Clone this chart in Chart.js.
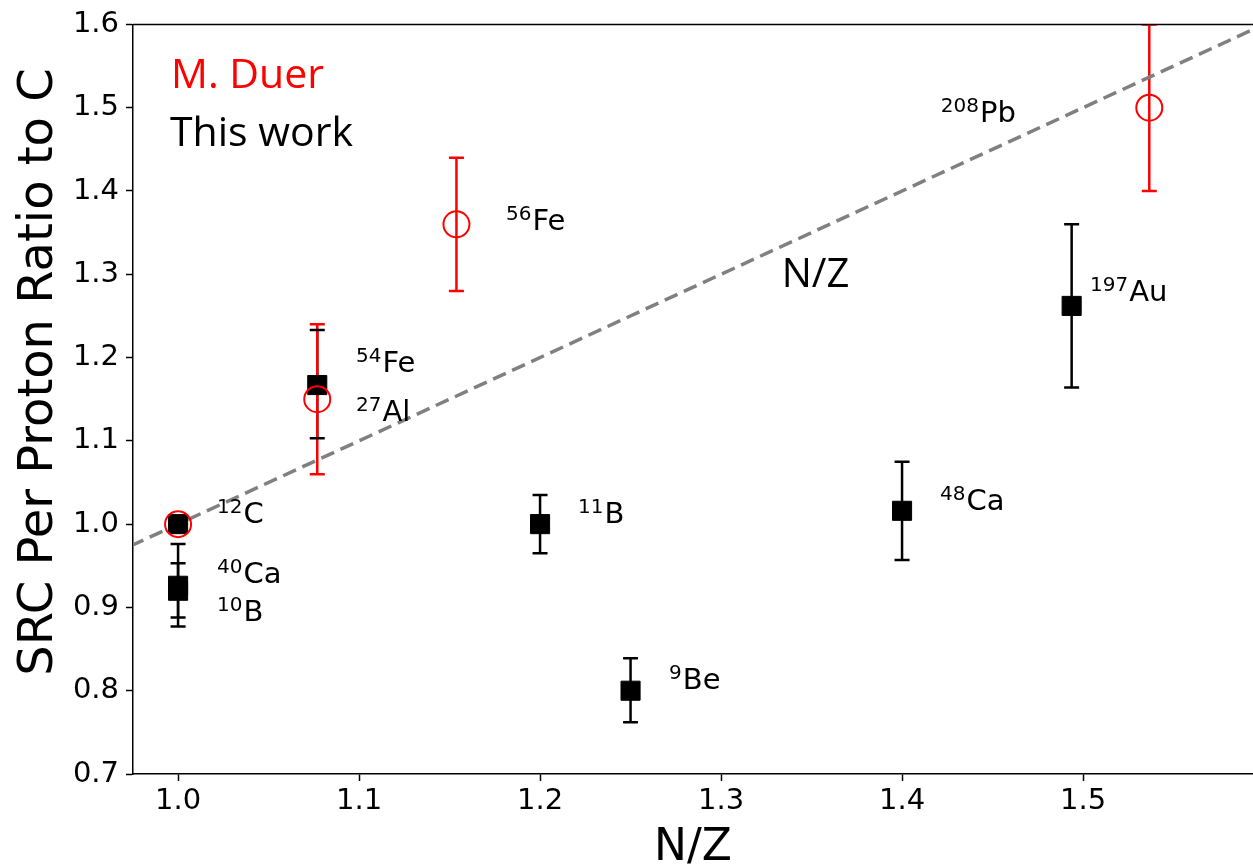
<!DOCTYPE html>
<html>
<head>
<meta charset="utf-8">
<script src="https://cdn.jsdelivr.net/npm/chart.js@4/dist/chart.umd.min.js"></script>
<style>
  html, body { margin: 0; padding: 0; background: #fff; overflow: hidden; }
  #wrap { position: absolute; left: 0; top: 0; width: 1253px; height: 866px; overflow: hidden; }
  canvas { display: block; }
</style>
</head>
<body>
<div id="wrap"><canvas id="c" width="1253" height="866"></canvas></div>
<script>
// This work: N/Z, SRC-per-proton ratio to carbon, and asymmetric uncertainties
const thisWorkNuclei  = ['12C', '40Ca', '10B', '54Fe', '11B', '9Be', '48Ca', '197Au'];
const thisWorkNZ      = [1.0, 1.0, 1.0, 1.0769, 1.2, 1.25, 1.4, 1.4937];
const thisWorkRatio   = [1.0, 0.926, 0.920, 1.167, 1.0, 0.80, 1.016, 1.262];
const thisWorkErrUp   = [0, 0.050, 0.033, 0.066, 0.035, 0.039, 0.059, 0.098];
const thisWorkErrDown = [0, 0.049, 0.032, 0.064, 0.035, 0.038, 0.059, 0.098];

// M. Duer measurements
const duerNuclei  = ['12C', '27Al', '56Fe', '208Pb'];
const duerNZ      = [1.0, 1.0769, 1.1538, 1.5366];
const duerRatio   = [1.0, 1.15, 1.36, 1.5];
const duerErrUp   = [0, 0.09, 0.08, 0.1];
const duerErrDown = [0, 0.09, 0.08, 0.1];

// Reference trend: ratio equal to N/Z
const nzLineX = [0.9, 1.7];
const nzLineY = [0.9, 1.7];

// Axis ticks
const xTickValues = [1.0, 1.1, 1.2, 1.3, 1.4, 1.5];
const yTickValues = [0.7, 0.8, 0.9, 1.0, 1.1, 1.2, 1.3, 1.4, 1.5, 1.6];

// Nucleus annotations (mass number, symbol, anchor in data units: left edge / baseline)
const labelMass = ['12', '40', '10', '54', '27', '56', '208', '11', '9', '48', '197'];
const labelSym  = ['C', 'Ca', 'B', 'Fe', 'Al', 'Fe', 'Pb', 'B', 'Be', 'Ca', 'Au'];
const labelX    = [1.0215, 1.0215, 1.0215, 1.0983, 1.0983, 1.1812, 1.4214, 1.221, 1.2713, 1.421, 1.5039];
const labelY    = [1.0014, 0.9298, 0.884, 1.1827, 1.1238, 1.3532, 1.4826, 1.0014, 0.8024, 1.0174, 1.2683];

const RED = '#ff0000';
const BLACK = '#000000';

const toPoints = (xs, ys) => xs.map((x, i) => ({ x: x, y: ys[i] }));

// Vertical error bars with caps, drawn beneath the markers
const errorBars = {
  id: 'errorBars',
  beforeDatasetsDraw(chart) {
    const { ctx, chartArea, scales: { x, y } } = chart;
    const groups = [
      { xs: thisWorkNZ, ys: thisWorkRatio, up: thisWorkErrUp, down: thisWorkErrDown, color: BLACK },
      { xs: duerNZ, ys: duerRatio, up: duerErrUp, down: duerErrDown, color: RED }
    ];
    const capHalf = 7.5;
    ctx.save();
    ctx.beginPath();
    ctx.rect(chartArea.left, chartArea.top, chartArea.right - chartArea.left, chartArea.bottom - chartArea.top);
    ctx.clip();
    ctx.lineWidth = 2.5;
    ctx.lineCap = 'butt';
    groups.forEach(g => {
      ctx.strokeStyle = g.color;
      g.xs.forEach((xv, i) => {
        if (!g.up[i] && !g.down[i]) return;
        const px = x.getPixelForValue(xv);
        ctx.beginPath();
        ctx.moveTo(px, y.getPixelForValue(g.ys[i] + g.up[i]));
        ctx.lineTo(px, y.getPixelForValue(g.ys[i] - g.down[i]));
        ctx.stroke();
      });
    });
    groups.forEach(g => {
      ctx.strokeStyle = g.color;
      g.xs.forEach((xv, i) => {
        if (!g.up[i] && !g.down[i]) return;
        const px = x.getPixelForValue(xv);
        const pTop = y.getPixelForValue(g.ys[i] + g.up[i]);
        const pBot = y.getPixelForValue(g.ys[i] - g.down[i]);
        ctx.beginPath();
        ctx.moveTo(px - capHalf, pTop);
        ctx.lineTo(px + capHalf, pTop);
        ctx.moveTo(px - capHalf, pBot);
        ctx.lineTo(px + capHalf, pBot);
        ctx.stroke();
      });
    });
    ctx.restore();
  }
};

// Nucleus labels, legend text, trend label, y-axis title and top frame line
const annotations = {
  id: 'annotations',
  afterDraw(chart) {
    const { ctx, chartArea, scales: { x, y } } = chart;
    ctx.save();
    ctx.textAlign = 'left';
    ctx.textBaseline = 'alphabetic';
    ctx.fillStyle = '#000';
    labelMass.forEach((m, i) => {
      const px = x.getPixelForValue(labelX[i]);
      const py = y.getPixelForValue(labelY[i]);
      ctx.font = '20px "DejaVu Sans"';
      ctx.fillText(m, px, py - 10);
      const w = ctx.measureText(m).width;
      ctx.font = '29px "DejaVu Sans"';
      ctx.fillText(labelSym[i], px + w + 1, py);
    });

    ctx.font = '40px "Open Sans"';
    ctx.fillText('N/Z', x.getPixelForValue(1.3335), y.getPixelForValue(1.2842));

    ctx.font = '41px "Open Sans"';
    ctx.fillStyle = RED;
    ctx.fillText('M. Duer', chartArea.left + 38, chartArea.top + 64);
    ctx.fillStyle = BLACK;
    ctx.fillText('This work', chartArea.left + 37, chartArea.top + 122);

    // y-axis title
    ctx.save();
    ctx.translate(40, 372);
    ctx.rotate(-Math.PI / 2);
    ctx.textAlign = 'center';
    ctx.textBaseline = 'middle';
    ctx.font = '48px "DejaVu Sans"';
    ctx.fillText('SRC Per Proton Ratio to C', 0, 0);
    ctx.restore();

    ctx.strokeStyle = BLACK;
    ctx.lineWidth = 1.5;
    ctx.beginPath();
    ctx.moveTo(chartArea.left, chartArea.top);
    ctx.lineTo(chartArea.right, chartArea.top);
    ctx.stroke();
    ctx.restore();
  }
};

Chart.defaults.font.family = '"DejaVu Sans"';
Chart.defaults.color = '#000';

new Chart(document.getElementById('c'), {
  type: 'scatter',
  data: {
    datasets: [
      {
        label: 'M. Duer',
        data: toPoints(duerNZ, duerRatio),
        pointStyle: 'circle',
        pointRadius: 13,
        pointHoverRadius: 13,
        borderColor: RED,
        backgroundColor: 'rgba(0,0,0,0)',
        borderWidth: 2,
        order: 0
      },
      {
        label: 'This work',
        data: toPoints(thisWorkNZ, thisWorkRatio),
        pointStyle: 'rect',
        pointRadius: 13.5,
        pointHoverRadius: 13.5,
        borderColor: BLACK,
        backgroundColor: BLACK,
        borderWidth: 1,
        order: 1
      },
      {
        type: 'line',
        label: 'N/Z',
        data: toPoints(nzLineX, nzLineY),
        borderColor: '#808080',
        borderWidth: 3.5,
        borderDash: [14, 7],
        pointRadius: 0,
        fill: false,
        order: 2
      }
    ]
  },
  options: {
    responsive: true,
    maintainAspectRatio: false,
    animation: false,
    devicePixelRatio: 1,
    layout: { autoPadding: false, padding: { top: 21, right: 0, bottom: 0, left: 0 } },
    plugins: { legend: { display: false }, tooltip: { enabled: false } },
    scales: {
      x: {
        type: 'linear',
        min: 0.9751,
        max: 1.5939,
        afterBuildTicks: s => { s.ticks = xTickValues.map(v => ({ value: v })); },
        afterFit: s => { s.height = 92; },
        ticks: {
          callback: v => Number(v).toFixed(1),
          font: { size: 29 },
          color: '#000',
          padding: 3,
          maxRotation: 0,
          autoSkip: false
        },
        grid: { drawOnChartArea: false, tickLength: 7, tickColor: '#000', tickWidth: 1.5 },
        border: { color: '#000', width: 1.5 },
        title: {
          display: true,
          text: 'N/Z',
          font: { size: 44, lineHeight: 1 },
          color: '#000',
          padding: { top: 0, bottom: -5 }
        }
      },
      y: {
        type: 'linear',
        min: 0.7,
        max: 1.6,
        afterBuildTicks: s => { s.ticks = yTickValues.map(v => ({ value: v })); },
        afterFit: s => { s.width = 133; },
        ticks: {
          callback: v => Number(v).toFixed(1),
          font: { size: 29 },
          color: '#000',
          padding: 7,
          autoSkip: false
        },
        grid: { drawOnChartArea: false, tickLength: 7, tickColor: '#000', tickWidth: 1.5 },
        border: { color: '#000', width: 1.5 },
        title: { display: false }
      }
    }
  },
  plugins: [errorBars, annotations]
});
</script>
</body>
</html>
